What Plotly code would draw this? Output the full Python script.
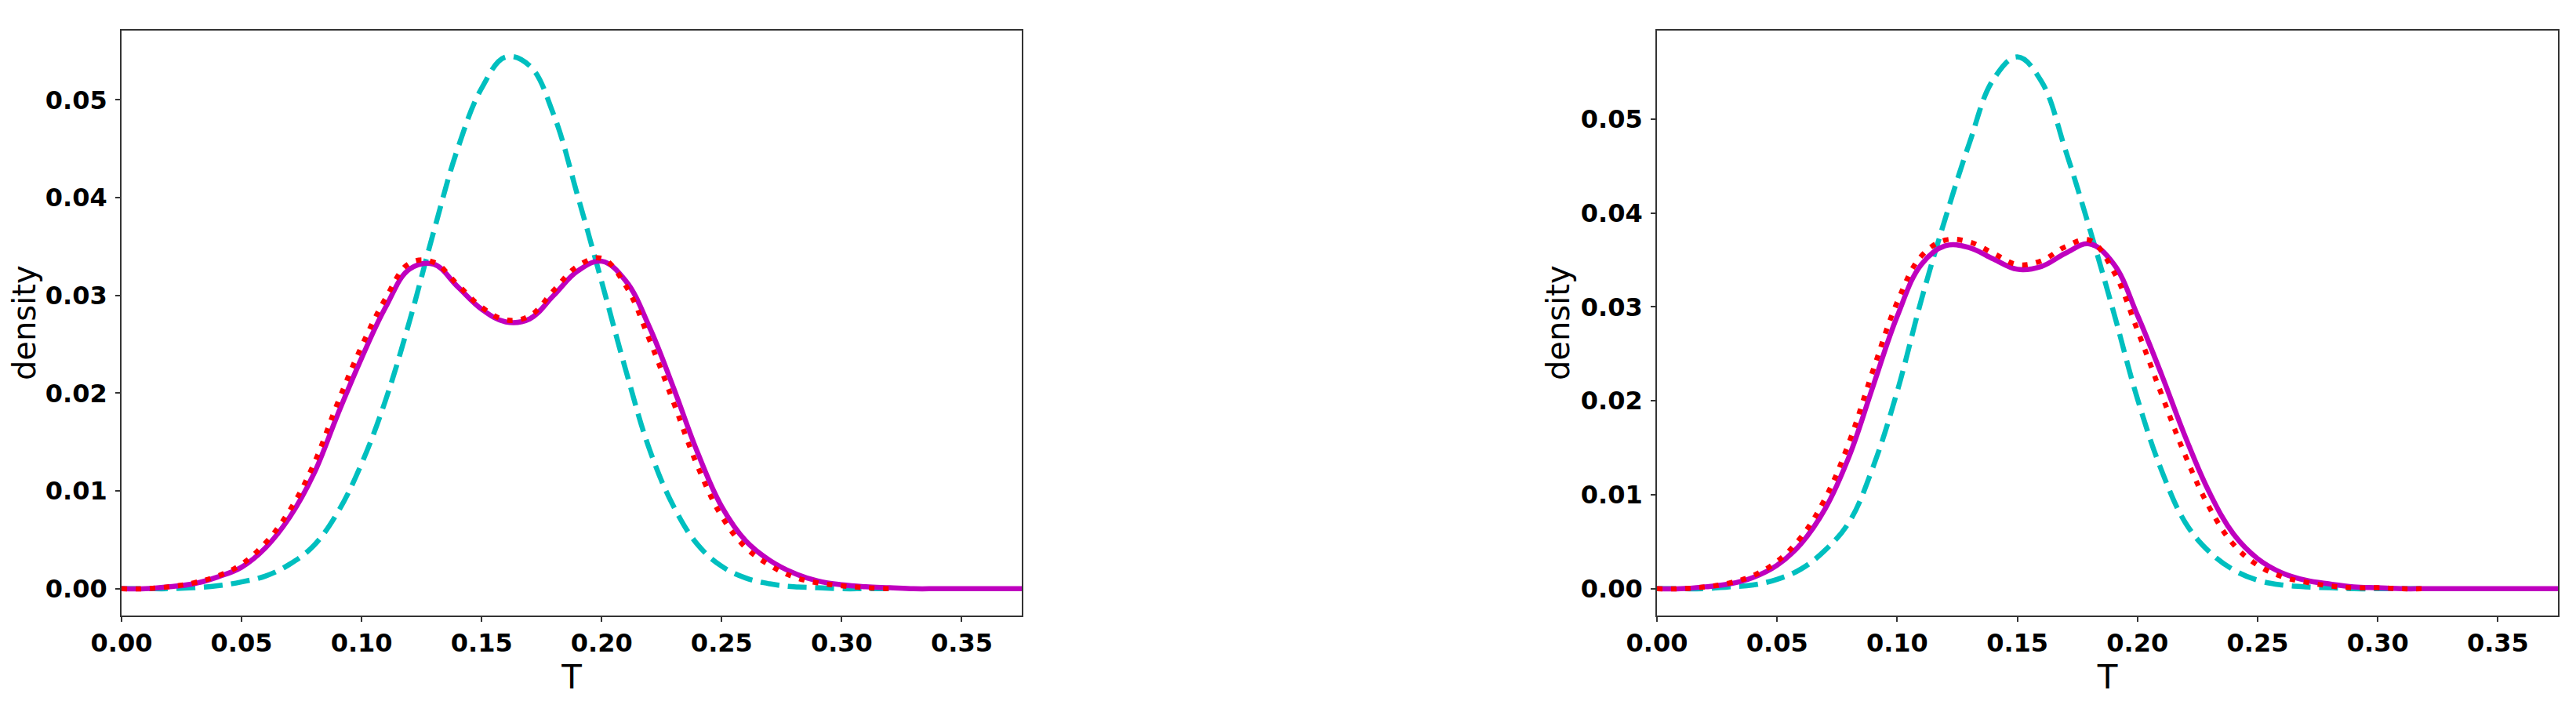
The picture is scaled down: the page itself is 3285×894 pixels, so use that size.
"""
Density of T for two cases: three estimates per panel (dashed, solid, dotted).
Writes out.html
"""

import plotly.graph_objects as go

# ---------------------------------------------------------------------------
# Data
# ---------------------------------------------------------------------------

T = [0.00, 0.01, 0.02, 0.03, 0.04, 0.05, 0.06, 0.07, 0.08, 0.09,
     0.10, 0.11, 0.12, 0.13, 0.14, 0.15, 0.16, 0.17, 0.18, 0.19,
     0.20, 0.21, 0.22, 0.23, 0.24, 0.25, 0.26, 0.27, 0.28, 0.29,
     0.30, 0.31, 0.32, 0.33, 0.34, 0.35, 0.36, 0.37, 0.375]

# left panel
cyan_left = [0.0000, 0.0000, 0.0000, 0.0001, 0.0003, 0.0007, 0.0013, 0.0025, 0.0044, 0.0078,
             0.0128, 0.0193, 0.0274, 0.0365, 0.0450, 0.0512, 0.0544, 0.0535, 0.0485, 0.0402,
             0.0314, 0.0224, 0.0142, 0.0084, 0.0045, 0.0023, 0.0011, 0.0005, 0.0002, 0.0001,
             0.0000, 0.0000, 0.0000]

magenta_left = [0.0000, 0.0000, 0.0002, 0.0005, 0.0012, 0.0022, 0.0042, 0.0073, 0.0117, 0.0178,
                0.0236, 0.0288, 0.0327, 0.0332, 0.0309, 0.0286, 0.0273, 0.0276, 0.0300, 0.0325,
                0.0335, 0.0315, 0.0267, 0.0205, 0.0139, 0.0084, 0.0049, 0.0029, 0.0016, 0.0008,
                0.0004, 0.0002, 0.0001, 0.0000, 0.0000, 0.0000, 0.0000, 0.0000, 0.0000]

red_left = [0.0000, 0.0000, 0.0002, 0.0006, 0.0013, 0.0025, 0.0047, 0.0080, 0.0127, 0.0190,
            0.0248, 0.0297, 0.0333, 0.0334, 0.0311, 0.0288, 0.0275, 0.0279, 0.0305, 0.0330,
            0.0338, 0.0310, 0.0254, 0.0190, 0.0125, 0.0074, 0.0042, 0.0024, 0.0012, 0.0006,
            0.0003, 0.0001, 0.0000]

# right panel
cyan_right = [0.0000, 0.0000, 0.0000, 0.0002, 0.0004, 0.0010, 0.0021, 0.0041, 0.0071, 0.0130,
              0.0210, 0.0307, 0.0394, 0.0474, 0.0542, 0.0566, 0.0540, 0.0467, 0.0384, 0.0295,
              0.0202, 0.0126, 0.0070, 0.0039, 0.0020, 0.0009, 0.0004, 0.0002, 0.0001, 0.0000,
              0.0000, 0.0000, 0.0000]

magenta_right = [0.0000, 0.0000, 0.0002, 0.0005, 0.0012, 0.0025, 0.0048, 0.0085, 0.0141, 0.0216,
                 0.0290, 0.0345, 0.0365, 0.0363, 0.0351, 0.0340, 0.0343, 0.0357, 0.0367, 0.0346,
                 0.0291, 0.0228, 0.0161, 0.0102, 0.0058, 0.0032, 0.0017, 0.0009, 0.0005, 0.0002,
                 0.0001, 0.0000, 0.0000, 0.0000, 0.0000, 0.0000, 0.0000, 0.0000, 0.0000]

red_right = [0.0000, 0.0000, 0.0002, 0.0006, 0.0014, 0.0029, 0.0055, 0.0096, 0.0156, 0.0233,
             0.0305, 0.0354, 0.0371, 0.0369, 0.0357, 0.0345, 0.0349, 0.0364, 0.0371, 0.0338,
             0.0275, 0.0207, 0.0141, 0.0086, 0.0047, 0.0025, 0.0013, 0.0007, 0.0003, 0.0001,
             0.0001, 0.0000, 0.0000]

X_TICKS = [0.00, 0.05, 0.10, 0.15, 0.20, 0.25, 0.30, 0.35]
Y_TICKS = [0.00, 0.01, 0.02, 0.03, 0.04, 0.05]

# ---------------------------------------------------------------------------
# Settings
# ---------------------------------------------------------------------------

# page body keeps an 8px margin, so the figure is drawn 8px smaller
PAGE_OFFSET = 8
WIDTH = 3285 - PAGE_OFFSET
HEIGHT = 894 - PAGE_OFFSET

CYAN = "#00bfbf"
MAGENTA = "#bf00bf"
RED = "#ff0000"
LW = 6.5
SMOOTH = 1.1

FONT = "DejaVu Sans, sans-serif"
TICK_SIZE = 32
LABEL_SIZE = 40

# plot areas in screen pixels: (left, right) per panel, (top, bottom) shared
PANEL_X = [(155, 1303), (2113, 3262)]
PANEL_Y = (38.7, 784.7)


def padded_range(*series):
    vals = [v for s in series for v in s]
    lo, hi = min(vals), max(vals)
    pad = 0.05 * (hi - lo)
    return [lo - pad, hi + pad]


fig = go.Figure()

panels = [
    ("x", "y", cyan_left, magenta_left, red_left),
    ("x2", "y2", cyan_right, magenta_right, red_right),
]

for xa, ya, cy, mg, rd in panels:
    fig.add_trace(go.Scatter(
        x=T[:len(cy)], y=cy, xaxis=xa, yaxis=ya, mode="lines",
        line=dict(color=CYAN, width=LW, dash="24px,11px", shape="spline", smoothing=SMOOTH),
        showlegend=False,
    ))
    fig.add_trace(go.Scatter(
        x=T[:len(mg)], y=mg, xaxis=xa, yaxis=ya, mode="lines",
        line=dict(color=MAGENTA, width=LW, shape="spline", smoothing=SMOOTH),
        showlegend=False,
    ))
    fig.add_trace(go.Scatter(
        x=T[:len(rd)], y=rd, xaxis=xa, yaxis=ya, mode="lines",
        line=dict(color=RED, width=LW, dash="7px,11px", shape="spline", smoothing=SMOOTH),
        showlegend=False,
    ))

AXIS_COMMON = dict(
    showline=True,
    mirror=True,
    linecolor="#333333",
    linewidth=1.6,
    showgrid=False,
    zeroline=False,
    ticks="outside",
    ticklen=6,
    tickwidth=1.5,
    tickcolor="#333333",
    tickformat=".2f",
    tickfont=dict(family=FONT, size=TICK_SIZE, color="black", weight="bold"),
    automargin=False,
)

y_dom = [1 - (PANEL_Y[1] - PAGE_OFFSET) / HEIGHT, 1 - (PANEL_Y[0] - PAGE_OFFSET) / HEIGHT]
layout_axes = {}
for i, (xa, ya, cy, mg, rd) in enumerate(panels):
    sfx = "" if i == 0 else str(i + 1)
    x0, x1 = PANEL_X[i]
    layout_axes["xaxis" + sfx] = dict(
        AXIS_COMMON,
        domain=[(x0 - PAGE_OFFSET) / WIDTH, (x1 - PAGE_OFFSET) / WIDTH],
        anchor="y" + sfx,
        range=[0, 0.375],
        tickvals=X_TICKS,
        ticklabelstandoff=0,
        title=dict(text="T", font=dict(family=FONT, size=LABEL_SIZE + 2, color="black"), standoff=0),
    )
    layout_axes["yaxis" + sfx] = dict(
        AXIS_COMMON,
        domain=y_dom,
        anchor="x" + sfx,
        range=padded_range(cy, mg, rd),
        tickvals=Y_TICKS,
        ticklabelstandoff=4,
        title=dict(text="density", font=dict(family=FONT, size=LABEL_SIZE, color="black"), standoff=2),
    )

fig.update_layout(
    width=WIDTH,
    height=HEIGHT,
    margin=dict(l=0, r=0, t=0, b=0),
    paper_bgcolor="white",
    plot_bgcolor="white",
    **layout_axes,
)

fig.write_html("out.html")
